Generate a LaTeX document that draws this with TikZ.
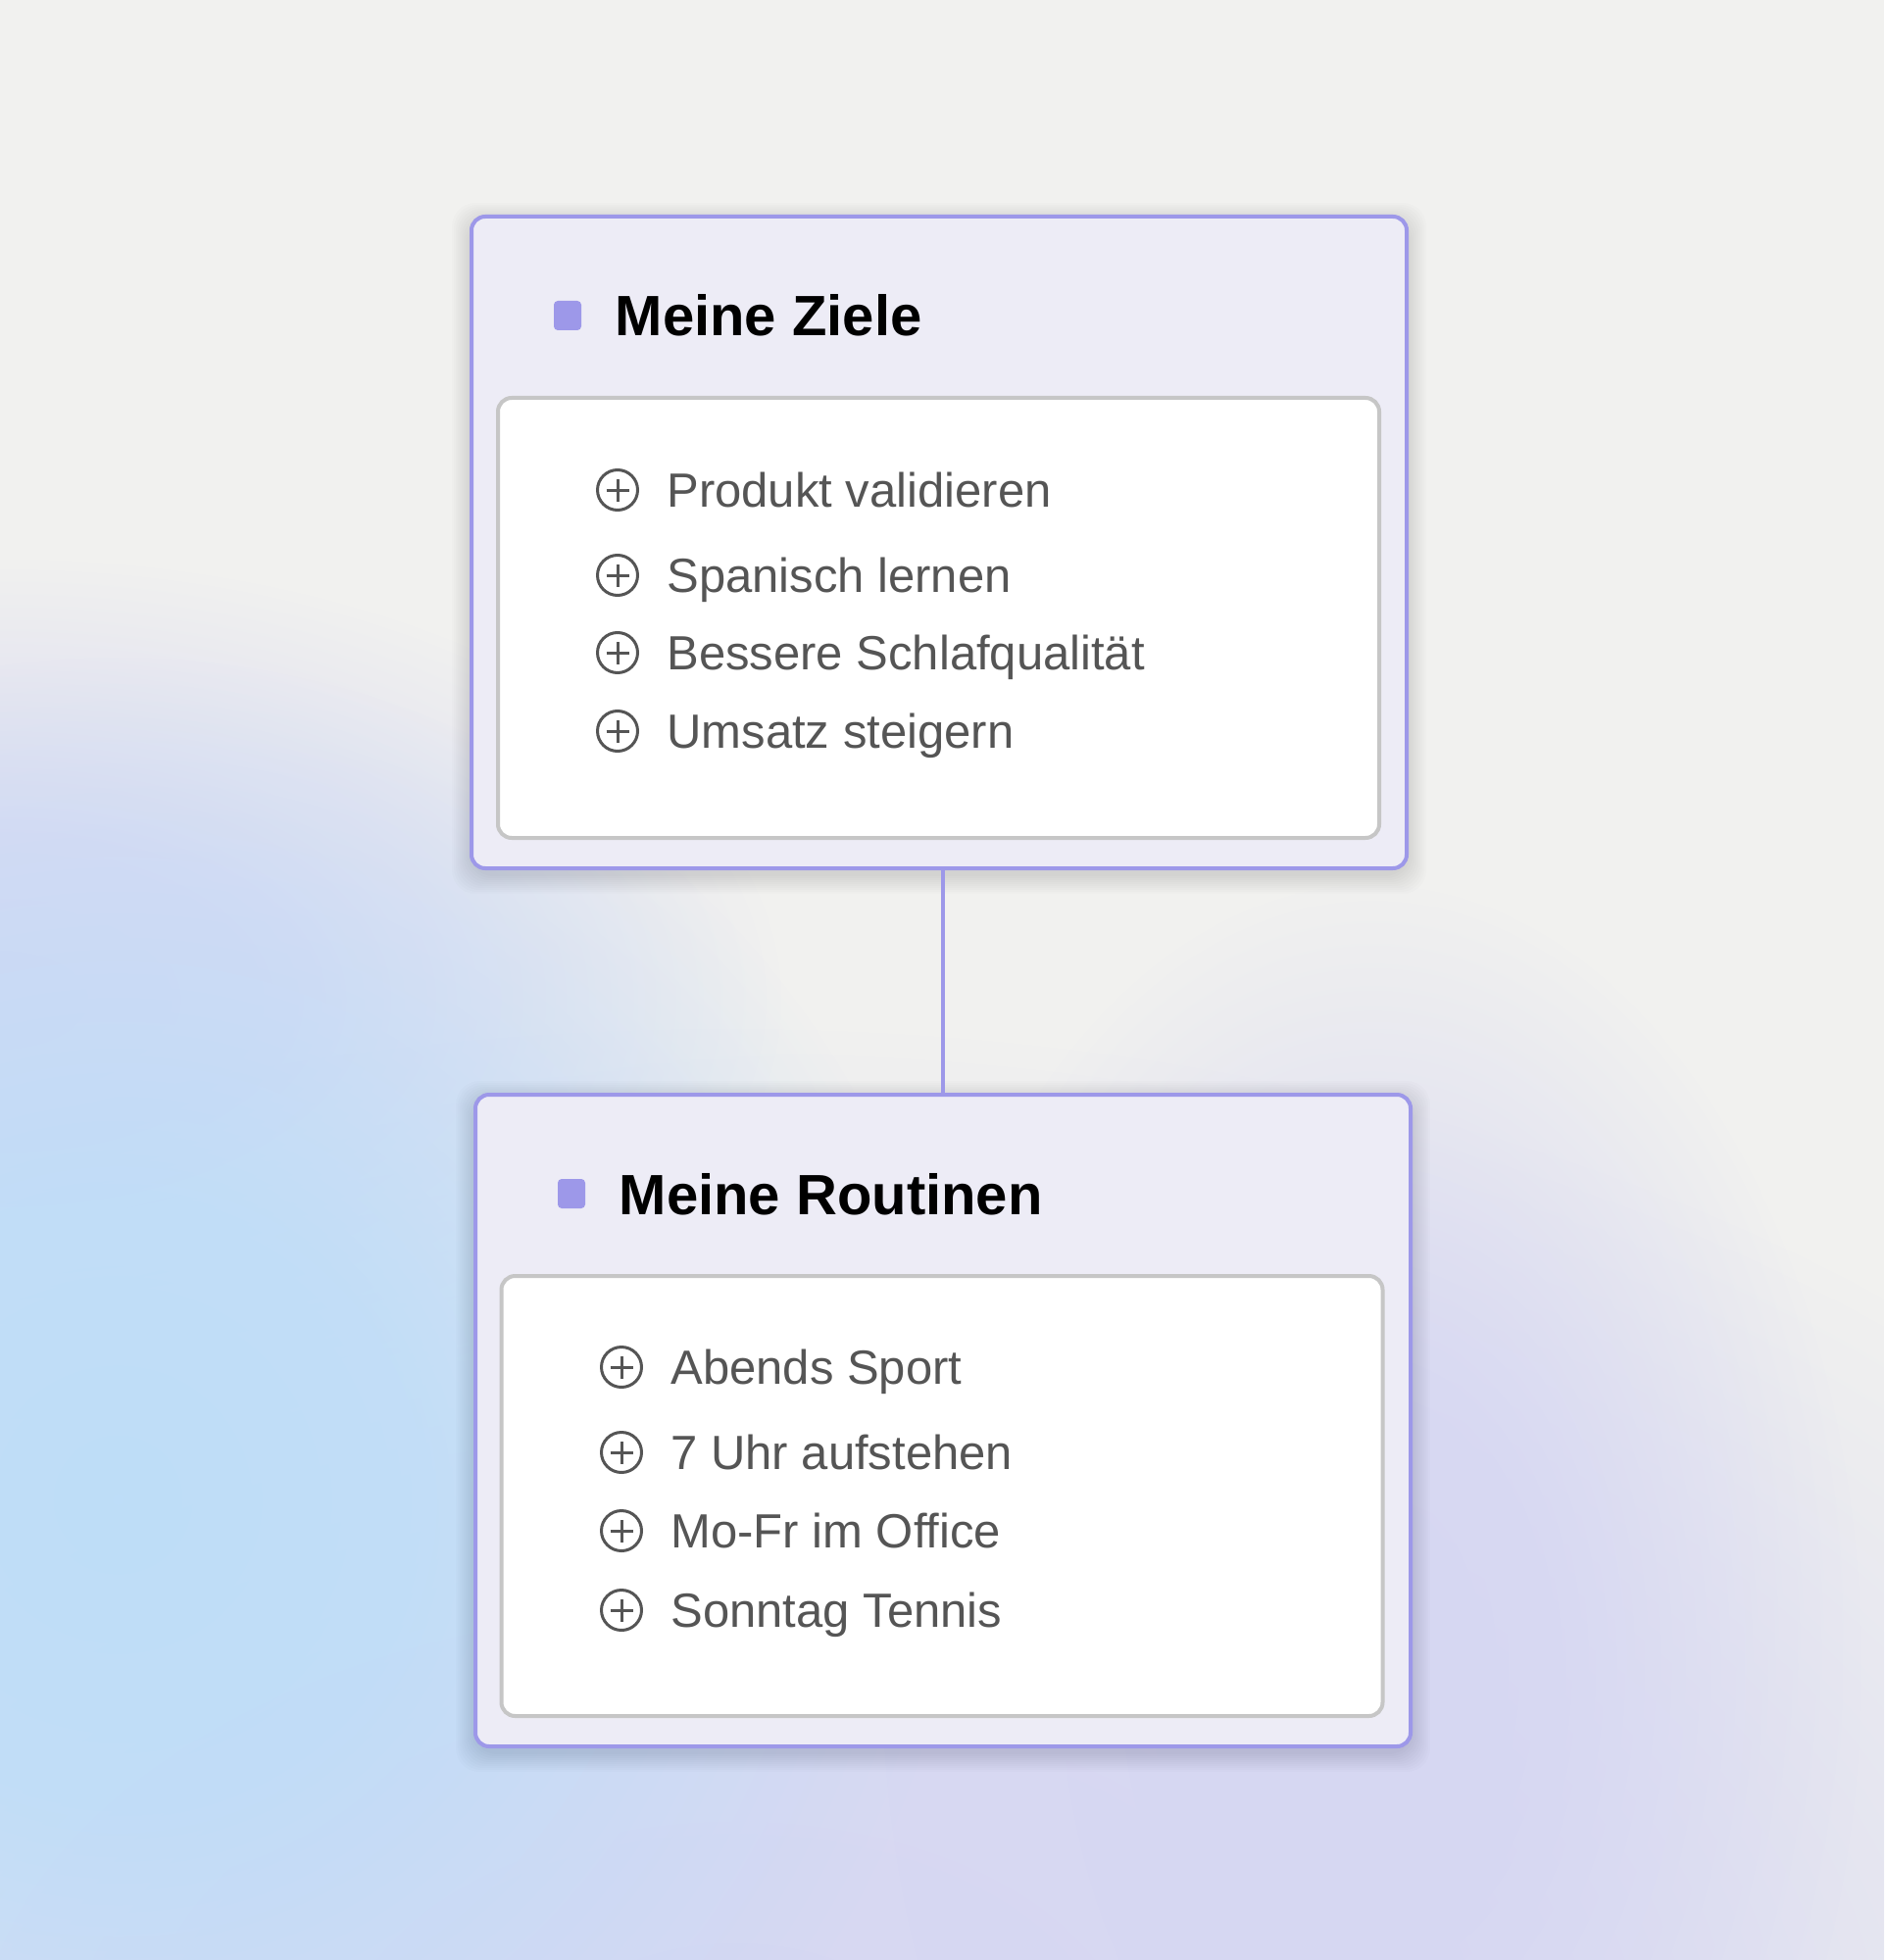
\documentclass[tikz,border=0pt]{standalone}
\usepackage{fontspec}
\setmainfont{Liberation Sans}
\usetikzlibrary{positioning,fadings}
\definecolor{bgbase}{HTML}{F1F1EF}
\definecolor{blobblue}{HTML}{BEDDF8}
\definecolor{bloblav}{HTML}{D6D7F3}
\definecolor{cardfill}{HTML}{EDECF6}
\definecolor{cardline}{HTML}{9D98E9}
\definecolor{listline}{HTML}{C6C6C6}
\definecolor{itemgray}{HTML}{555555}
\pgfdeclareradialshading{blobshade}{\pgfpointorigin}{color(0bp)=(white); color(9bp)=(white!88!black); color(25bp)=(black); color(50bp)=(black)}
\pgfdeclarefading{blobfade}{\pgfuseshading{blobshade}}
\tikzset{
    %Define style for the outer cards
    cardnode/.style={
             rectangle, rounded corners=7pt,
             draw=cardline, line width=2pt,
             fill=cardfill, inner sep=0pt,
             minimum width=477pt, minimum height=332.5pt},
    %Define style for the white lists
    listnode/.style={
             rectangle, rounded corners=7pt,
             draw=listline, line width=2pt,
             fill=white, inner sep=0pt,
             minimum width=449.5pt, minimum height=224.5pt},
    marknode/.style={
             rectangle, rounded corners=2pt,
             fill=cardline, inner sep=0pt,
             minimum width=14pt, minimum height=15pt},
    titlenode/.style={
             font=\fontsize{29}{35}\selectfont\bfseries,
             text=black, inner sep=0pt,
             text height=21pt, text depth=0pt},
    plusnode/.style={
             circle, draw=itemgray, line width=1.5pt,
             minimum size=20.5pt, inner sep=0pt,
             path picture={
               \draw[itemgray, line width=1.5pt]
                 ([xshift=-5.75pt]path picture bounding box.center) -- ([xshift=5.75pt]path picture bounding box.center)
                 ([yshift=-5.75pt]path picture bounding box.center) -- ([yshift=5.75pt]path picture bounding box.center);}},
    itemnode/.style={
             font=\fontsize{24.5}{29}\selectfont,
             text=itemgray, inner sep=0pt,
             text height=17.5pt, text depth=0pt},
    % Define connector style
    linkline/.style={
            draw=cardline,
            line width=2pt}
}

\begin{document}
\begin{tikzpicture}[x=0.5pt, y=-0.5pt]
 \useasboundingbox (0,0) rectangle (1922,2000);
 \begin{scope}
 \clip (0,0) rectangle (1922,2000);
 % background
 \fill[bgbase] (0,0) rectangle (1922,2000);
 \fill[bloblav, path fading=blobfade] (0,1020) ellipse (800 and 450);
 \fill[bloblav, path fading=blobfade] (750,2100) ellipse (1750 and 1050);
 \fill[bloblav, path fading=blobfade] (1400,1700) ellipse (500 and 800);
 \fill[blobblue, path fading=blobfade] (120,1530) ellipse (860 and 860);
 % soft shadows
 \foreach \k in {1,...,10} {
   \fill[black, opacity=0.012, rounded corners=12] (481-2*\k,221-2*\k+6) rectangle (1435+2*\k,886+2*\k+6);
   \fill[black, opacity=0.012, rounded corners=12] (485-2*\k,1117-2*\k+6) rectangle (1439+2*\k,1782+2*\k+6);
 }
 \end{scope}

 % first card
 \node[cardnode] (ziele) at (958,553.5) {};
 \node[listnode] (zlist) at (957.5,630.5) {};
 \node[marknode] (zmark) at (579,322) {};
 \node[titlenode, right=17pt of zmark] (ztitle) {Meine Ziele};
 \node[plusnode] (z1) at (630,500) {};
 \node[plusnode, below=21.5pt of z1] (z2) {};
 \node[plusnode, below=17.5pt of z2] (z3) {};
 \node[plusnode, below=18pt of z3] (z4) {};
 \node[itemnode, right=14pt of z1] (z1t) {Produkt validieren};
 \node[itemnode, right=14pt of z2] (z2t) {Spanisch lernen};
 \node[itemnode, right=14pt of z3] (z3t) {Bessere Schlafqualität};
 \node[itemnode, right=14pt of z4] (z4t) {Umsatz steigern};

 % second card
 \node[cardnode] (routinen) at (962,1449.5) {};
 \node[listnode] (rlist) at (961,1526.5) {};
 \node[marknode] (rmark) at (583,1218) {};
 \node[titlenode, right=17pt of rmark] (rtitle) {Meine Routinen};
 \node[plusnode] (r1) at (634,1395) {};
 \node[plusnode, below=21.5pt of r1] (r2) {};
 \node[plusnode, below=18pt of r2] (r3) {};
 \node[plusnode, below=18.5pt of r3] (r4) {};
 \node[itemnode, right=14pt of r1] (r1t) {Abends Sport};
 \node[itemnode, right=14pt of r2] (r2t) {7 Uhr aufstehen};
 \node[itemnode, right=14pt of r3] (r3t) {Mo-Fr im Office};
 \node[itemnode, right=14pt of r4] (r4t) {Sonntag Tennis};

 \draw[linkline] (ziele.south -| routinen) -- (routinen.north);
\end{tikzpicture}
\end{document}
